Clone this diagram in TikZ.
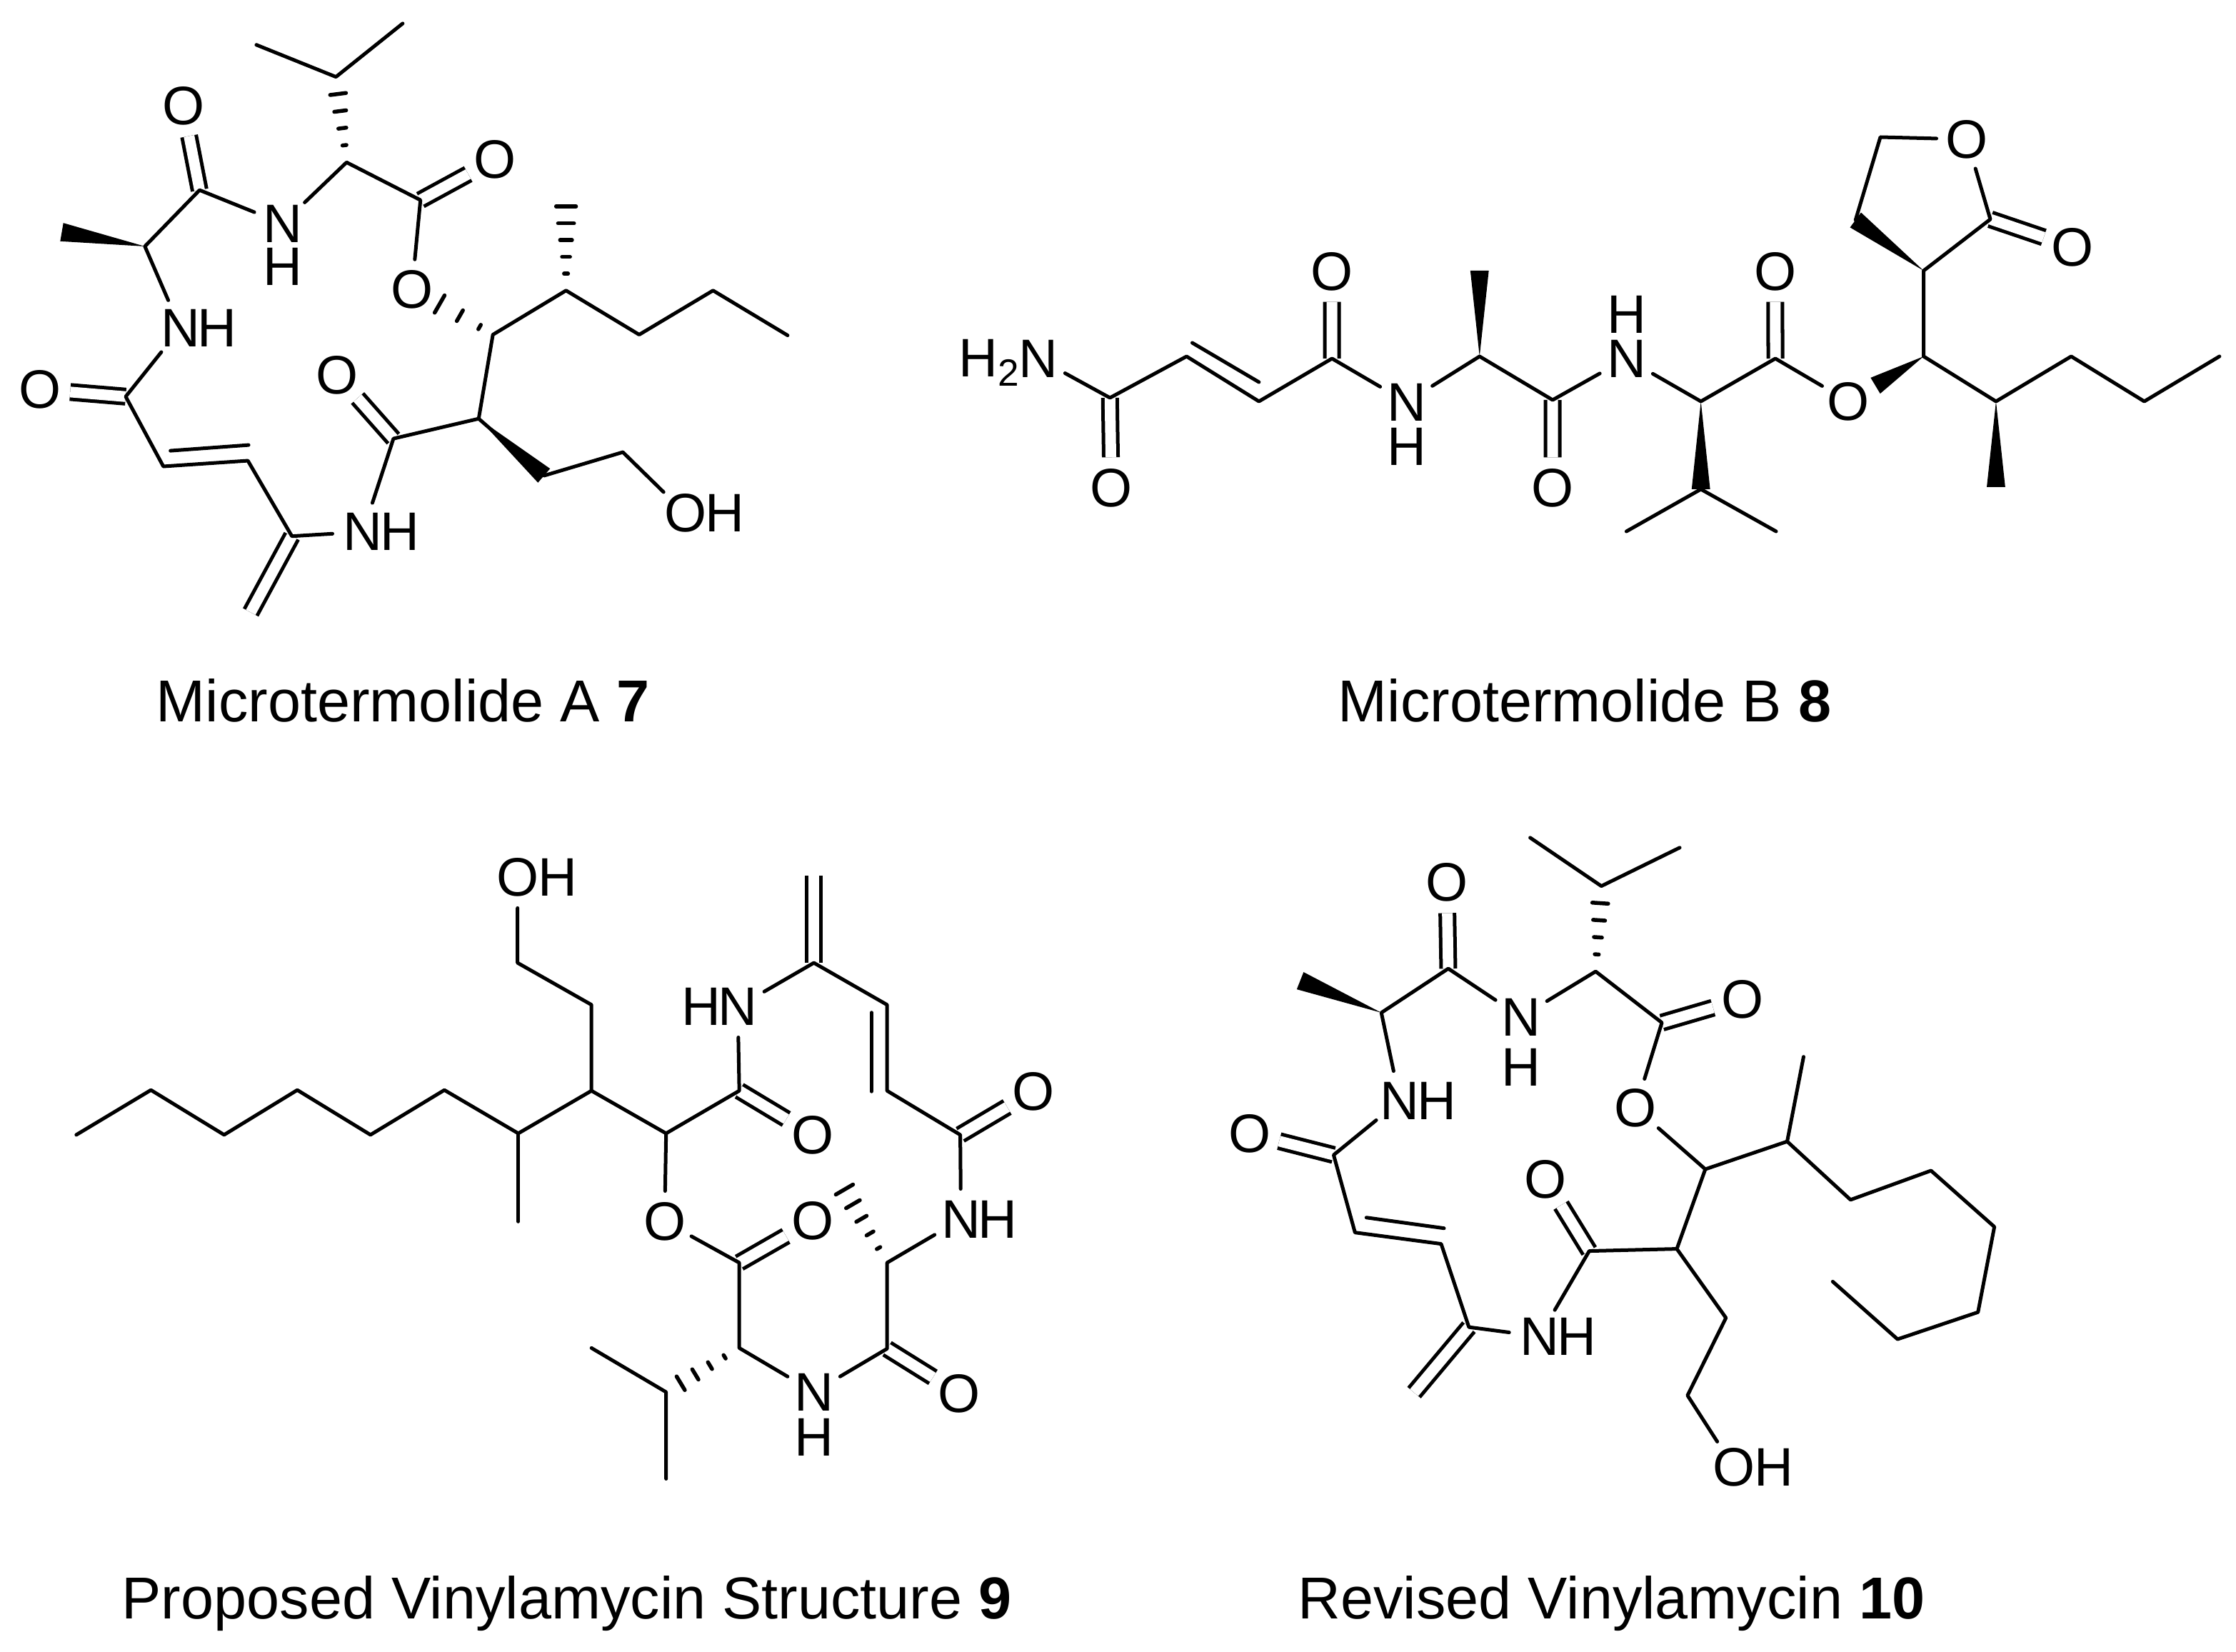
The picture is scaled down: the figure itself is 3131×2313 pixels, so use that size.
\documentclass[tikz,border=0pt]{standalone}
\usepackage{fontspec}
\setmainfont{Liberation Sans}
\usetikzlibrary{calc}
\tikzset{
	bond/.style={line width=0.05cm, line cap=round, line join=round},
	dbond/.style={line width=0.05cm, double, double distance=0.15cm},
	atom/.style={circle, inner sep=0pt, minimum size=0.84cm, font=\fontsize{21.6}{25}\selectfont},
	caption/.style={anchor=base west, inner sep=0pt, font=\fontsize{23.55}{28}\selectfont}
}
\newcommand{\wedgebond}[2]{\fill ($(#2)!0.13cm!90:(#1)$) -- ($(#2)!0.13cm!-90:(#1)$) -- (#1) -- cycle;}
\newcommand{\hashbond}[3]{\foreach \s in {#3} {
	\draw[line width=0.055cm, line cap=round] ($(#2)!1-\s!(#1)!\s*0.14cm!90:(#1)$) -- ($(#2)!1-\s!(#1)!\s*0.14cm!-90:(#1)$);
}}
\begin{document}
\begin{tikzpicture}[x=0.01cm, y=-0.01cm]
	\useasboundingbox (0,0) rectangle (3131,2313);

	\begin{scope}[xscale=0.9945, yscale=0.997]
	\coordinate (a1) at (361,63); \coordinate (a2) at (473,108); \coordinate (a3) at (567,33);
	\coordinate (a4) at (488,228); \coordinate (a5) at (281,267); \coordinate (a6) at (592,281);
	\coordinate (a7) at (204,346); \coordinate (a8) at (87,326); \coordinate (a9) at (177,557);
	\coordinate (a10) at (230,655); \coordinate (a11) at (349,647); \coordinate (a12) at (411,753);
	\coordinate (a13) at (353,860); \coordinate (a14) at (554,616); \coordinate (a15) at (674,588);
	\coordinate (a16) at (694,470); \coordinate (a17) at (797,408); \coordinate (a18) at (797,290);
	\coordinate (a19) at (900,470); \coordinate (a20) at (1004,408); \coordinate (a21) at (1109,471);
	\coordinate (a22) at (766,668); \coordinate (a23) at (877,635); \coordinate (a24) at (619,427);
	\coordinate (a25) at (240,633); \coordinate (a26) at (350,625);
	\node[atom] (ao1) at (258,149) {O};
	\node[atom] (ao2) at (697,224) {O};
	\node[atom] (ao3) at (580,407) {O};
	\node[atom] (ao4) at (56,547) {O};
	\node[atom] (ao5) at (475,527) {O};
	\node[atom] (ao6) at (965,721) {O};
	\node[atom] (ah6) at (1021,721) {H};
	\node[atom] (an1) at (398,314) {N};
	\node[atom] (ah1) at (398,375) {H};
	\node[atom] (an2) at (254,461) {N};
	\node[atom] (ah2) at (306,461) {H};
	\node[atom] (an3) at (511,747) {N};
	\node[atom] (ah3) at (563,747) {H};
	\draw[dbond] (a5) -- (ao1);
	\draw[dbond] (a6) -- (ao2);
	\draw[dbond] (a9) -- (ao4);
	\draw[dbond] (a14) -- (ao5);
	\draw[dbond] (a12) -- (a13);
	\draw[bond] (a1) -- (a2) -- (a3);
	\draw[bond] (an1) -- (a5) -- (a7) -- (an2) -- (a9) -- (a10) -- (a11) -- (a12) -- (an3) -- (a14) -- (a15) -- (a16) -- (a17) -- (a19) -- (a20) -- (a21);
	\draw[bond] (an1) -- (a4) -- (a6) -- (ao3);
	\draw[bond] (a15) -- (a22) -- (a23) -- (ao6);
	\draw[bond] (a25) -- (a26);
	\wedgebond{a7}{a8}
	\wedgebond{a15}{a22}
	\hashbond{a4}{a2}{.2,.4,.6,.8}
	\hashbond{a17}{a18}{.2,.4,.6,.8,1}
	\hashbond{a16}{a24}{.25,.62,1}
	\end{scope}

	\begin{scope}[shift={(8.6,0)}, xscale=0.9934]
	\coordinate (b1) at (1556,557); \coordinate (b2) at (1664,499); \coordinate (b3) at (1766,562);
	\coordinate (b4) at (1869,502); \coordinate (b5) at (2077,499); \coordinate (b6) at (2077,379);
	\coordinate (b7) at (2180,560); \coordinate (b8) at (2389,562); \coordinate (b9) at (2389,685);
	\coordinate (b10) at (2284,744); \coordinate (b11) at (2495,744); \coordinate (b12) at (2494,502);
	\coordinate (b13) at (2703,499); \coordinate (b14) at (2635,540); \coordinate (b15) at (2703,379);
	\coordinate (b16) at (2607,308); \coordinate (b17) at (2642,192); \coordinate (b18) at (2797,307);
	\coordinate (b19) at (2805,562); \coordinate (b20) at (2805,682); \coordinate (b21) at (2911,499);
	\coordinate (b22) at (3014,562); \coordinate (b23) at (3120,499);
	\coordinate (b24) at (1672,480); \coordinate (b25) at (1766,535);
	\node[atom] (bn1) at (1455,502) {N};
	\node[atom, anchor=base west, minimum size=0pt] (bh1) at (1332,528) {H\textsubscript{2}};
	\node[atom] (bo1) at (1558,683) {O};
	\node[atom] (bo2) at (1869,380) {O};
	\node[atom] (bn2) at (1974,563) {N};
	\node[atom] (bh2) at (1974,625) {H};
	\node[atom] (bo3) at (2180,683) {O};
	\node[atom] (bn3) at (2284,502) {N};
	\node[atom] (bh3) at (2284,440) {H};
	\node[atom] (bo4) at (2494,380) {O};
	\node[atom] (bo5) at (2597,562) {O};
	\node[atom] (bo6) at (2764,195) {O};
	\node[atom] (bo7) at (2913,346) {O};
	\draw[dbond] (b1) -- (bo1);
	\draw[dbond] (b4) -- (bo2);
	\draw[dbond] (b7) -- (bo3);
	\draw[dbond] (b12) -- (bo4);
	\draw[dbond] (b18) -- (bo7);
	\draw[bond] (bn1) -- (b1) -- (b2) -- (b3) -- (b4) -- (bn2) -- (b5) -- (b7) -- (bn3) -- (b8) -- (b12) -- (bo5);
	\draw[bond] (b10) -- (b9) -- (b11);
	\draw[bond] (b24) -- (b25);
	\draw[bond] (b13) -- (b15) -- (b18) -- (bo6) -- (b17) -- (b16);
	\draw[bond] (b13) -- (b19) -- (b21) -- (b22) -- (b23);
	\wedgebond{b5}{b6}
	\wedgebond{b8}{b9}
	\wedgebond{b13}{b14}
	\wedgebond{b15}{b16}
	\wedgebond{b19}{b20}
	\end{scope}

	\begin{scope}[shift={(0.4,5.9)}, xscale=0.995, yscale=0.995]
	\coordinate (c1) at (107,1591); \coordinate (c2) at (212,1528); \coordinate (c3) at (315,1591);
	\coordinate (c4) at (418,1528); \coordinate (c5) at (521,1591); \coordinate (c6) at (625,1528);
	\coordinate (c7) at (729,1589); \coordinate (c8) at (729,1713); \coordinate (c9) at (832,1529);
	\coordinate (c10) at (832,1408); \coordinate (c11) at (728,1349); \coordinate (c12) at (937,1589);
	\coordinate (c13) at (1040,1529); \coordinate (c14) at (1145,1349); \coordinate (c15) at (1145,1226);
	\coordinate (c16) at (1248,1408); \coordinate (c17) at (1248,1529); \coordinate (c18) at (1351,1591);
	\coordinate (c19) at (1248,1771); \coordinate (c20) at (1188,1668); \coordinate (c21) at (1248,1892);
	\coordinate (c22) at (1040,1891); \coordinate (c23) at (1040,1771); \coordinate (c24) at (937,1953);
	\coordinate (c25) at (832,1891); \coordinate (c26) at (937,2075);
	\coordinate (c28) at (1226,1419); \coordinate (c29) at (1226,1530);
	\node[atom] (co1) at (728,1229) {O};
	\node[atom] (ch1) at (784,1229) {H};
	\node[atom] (cn1) at (1038,1411) {N};
	\node[atom] (ch2) at (986,1411) {H};
	\node[atom] (co2) at (1143,1591) {O};
	\node[atom] (co3) at (1454,1530) {O};
	\node[atom] (cn2) at (1352,1710) {N};
	\node[atom] (ch3) at (1404,1710) {H};
	\node[atom] (co4) at (935,1713) {O};
	\node[atom] (co5) at (1143,1712) {O};
	\node[atom] (cn3) at (1145,1953) {N};
	\node[atom] (ch4) at (1145,2017) {H};
	\node[atom] (co6) at (1349,1955) {O};
	\draw[dbond] (c14) -- (c15);
	\draw[dbond] (c13) -- (co2);
	\draw[dbond] (c18) -- (co3);
	\draw[dbond] (c23) -- (co5);
	\draw[dbond] (c21) -- (co6);
	\draw[bond] (c1) -- (c2) -- (c3) -- (c4) -- (c5) -- (c6) -- (c7) -- (c9) -- (c12) -- (c13) -- (cn1) -- (c14) -- (c16) -- (c17) -- (c18) -- (cn2) -- (c19) -- (c21) -- (cn3) -- (c22) -- (c23) -- (co4) -- (c12);
	\draw[bond] (c7) -- (c8);
	\draw[bond] (c9) -- (c10) -- (c11) -- (co1);
	\draw[bond] (c25) -- (c24) -- (c26);
	\draw[bond] (c28) -- (c29);
	\hashbond{c19}{c20}{.2,.4,.6,.8,1}
	\hashbond{c22}{c24}{.2,.4,.6,.8}
	\end{scope}

	\begin{scope}[shift={(5.1,4.6)}, xscale=0.997, yscale=0.996]
	\coordinate (d1) at (2144,1173); \coordinate (d2) at (2244,1241); \coordinate (d3) at (2354,1187);
	\coordinate (d4) at (2236,1361); \coordinate (d5) at (2029,1357); \coordinate (d6) at (1935,1419);
	\coordinate (d7) at (1821,1374); \coordinate (d8) at (1868,1619); \coordinate (d9) at (1898,1728);
	\coordinate (d10) at (2019,1744); \coordinate (d11) at (2058,1861); \coordinate (d12) at (1981,1953);
	\coordinate (d13) at (2227,1754); \coordinate (d14) at (2350,1751); \coordinate (d15) at (2390,1639);
	\coordinate (d16) at (2329,1433); \coordinate (d17) at (2505,1600); \coordinate (d18) at (2528,1481);
	\coordinate (d19) at (2594,1682); \coordinate (d20) at (2707,1641); \coordinate (d21) at (2796,1720);
	\coordinate (d22) at (2773,1840); \coordinate (d23) at (2660,1878); \coordinate (d24) at (2569,1797);
	\coordinate (d25) at (2419,1848); \coordinate (d26) at (2365,1957);
	\coordinate (d27) at (1914,1707); \coordinate (d28) at (2023,1722);
	\node[atom] (do1) at (2027,1236) {O};
	\node[atom] (do2) at (2442,1400) {O};
	\node[atom] (dn1) at (2131,1425) {N};
	\node[atom] (dh1) at (2131,1496) {H};
	\node[atom] (do3) at (2292,1553) {O};
	\node[atom] (dn2) at (1961,1543) {N};
	\node[atom] (dh2) at (2013,1543) {H};
	\node[atom] (do4) at (1750,1589) {O};
	\node[atom] (do5) at (2165,1653) {O};
	\node[atom] (dn3) at (2157,1874) {N};
	\node[atom] (dh3) at (2209,1874) {H};
	\node[atom] (do6) at (2430,2058) {O};
	\node[atom] (dh6) at (2486,2058) {H};
	\draw[dbond] (d5) -- (do1);
	\draw[dbond] (d16) -- (do2);
	\draw[dbond] (d8) -- (do4);
	\draw[dbond] (d13) -- (do5);
	\draw[dbond] (d11) -- (d12);
	\draw[bond] (d1) -- (d2) -- (d3);
	\draw[bond] (dn1) -- (d5) -- (d6) -- (dn2) -- (d8) -- (d9) -- (d10) -- (d11) -- (dn3) -- (d13) -- (d14) -- (d15) -- (d17) -- (d19) -- (d20) -- (d21) -- (d22) -- (d23) -- (d24);
	\draw[bond] (dn1) -- (d4) -- (d16) -- (do3) -- (d15);
	\draw[bond] (d17) -- (d18);
	\draw[bond] (d14) -- (d25) -- (d26) -- (do6);
	\draw[bond] (d27) -- (d28);
	\wedgebond{d6}{d7}
	\hashbond{d4}{d2}{.2,.4,.6,.8}
	\end{scope}

	\node[caption] (acap) at (218,1010) {Microtermolide A \textbf{7}};
	\node[caption] (bcap) at (1873,1010) {Microtermolide B \textbf{8}};
	\node[caption] (ccap) at (170,2266) {Proposed Vinylamycin Structure \textbf{9}};
	\node[caption] (dcap) at (1817,2266) {Revised Vinylamycin \textbf{10}};
\end{tikzpicture}
\end{document}
